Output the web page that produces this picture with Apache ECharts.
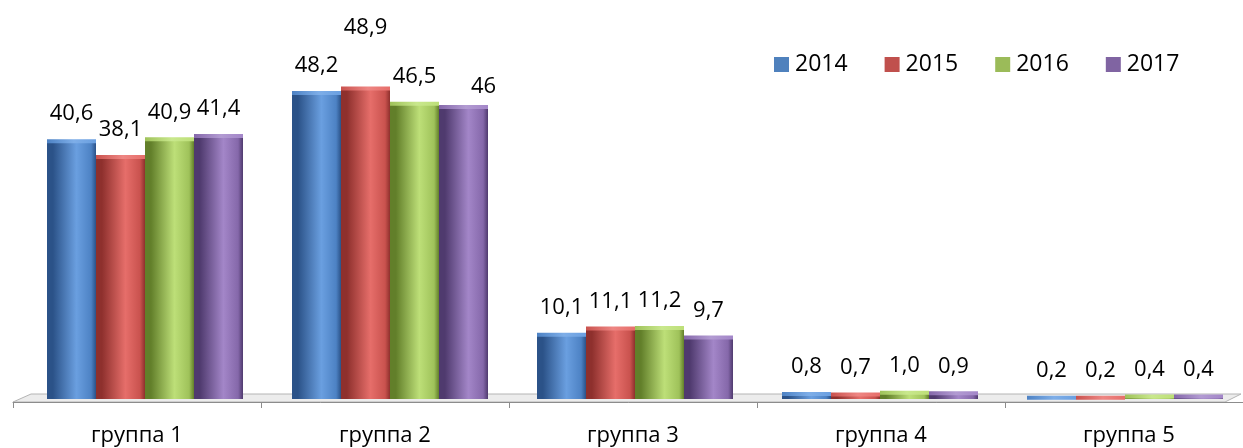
<!DOCTYPE html>
<html>
<head>
<meta charset="utf-8">
<script src="https://cdn.jsdelivr.net/npm/echarts@6/dist/echarts.min.js"></script>
<style>
html,body{margin:0;padding:0;background:#fff;}
#chart{width:1243px;height:448px;}
</style>
</head>
<body>
<div id="chart"></div>
<script>
var categories = ['группа 1', 'группа 2', 'группа 3', 'группа 4', 'группа 5'];
var years = ['2014', '2015', '2016', '2017'];
var v2014 = [40.6, 48.2, 10.1, 0.8, 0.2];
var v2015 = [38.1, 48.9, 11.1, 0.7, 0.2];
var v2016 = [40.9, 46.5, 11.2, 1.0, 0.4];
var v2017 = [41.4, 46.0, 9.7, 0.9, 0.4];
var t2014 = ['40,6', '48,2', '10,1', '0,8', '0,2'];
var t2015 = ['38,1', '48,9', '11,1', '0,7', '0,2'];
var t2016 = ['40,9', '46,5', '11,2', '1,0', '0,4'];
var t2017 = ['41,4', '46', '9,7', '0,9', '0,4'];

var values = [v2014, v2015, v2016, v2017];
var texts = [t2014, t2015, t2016, t2017];
// [dark, light, right, base, capLight]
var palette = [
  ['#2b5288', '#6a9fe0', '#4d82c4', '#4F81BD', '#7eaee8'],
  ['#8e302d', '#e66e6a', '#c9524e', '#C0504D', '#ee8683'],
  ['#627f2a', '#bddf78', '#9fc25a', '#9BBB59', '#c9e88d'],
  ['#4f3a6e', '#a386c8', '#8568aa', '#8064A2', '#b29bd2']
];
// label nudges (layout only)
var nudge = {'1-1': [0, -34], '3-1': [20, 7]};

var FONT = 'Open Sans';
var chart = echarts.init(document.getElementById('chart'));

function grad(stops) {
  return new echarts.graphic.LinearGradient(0, 0, 1, 0, stops);
}

var series = [];
values.forEach(function (vals, s) {
  var p = palette[s];
  series.push({
    name: years[s],
    type: 'bar',
    xAxisIndex: 0,
    yAxisIndex: 0,
    barWidth: 49,
    barGap: '0%',
    z: 3,
    itemStyle: {
      color: grad([
        {offset: 0, color: p[0]},
        {offset: 0.12, color: p[0]},
        {offset: 0.6, color: p[1]},
        {offset: 0.9, color: p[2]},
        {offset: 1, color: p[0]}
      ])
    },
    data: vals.map(function (v, i) {
      var o = nudge[s + '-' + i];
      var d = {value: v};
      if (o) d.label = {offset: o};
      return d;
    }),
    label: {
      show: true,
      position: 'top',
      distance: 16,
      fontFamily: FONT,
      fontSize: 22,
      color: '#000',
      formatter: function (prm) { return texts[s][prm.dataIndex]; }
    }
  });
});
values.forEach(function (vals, s) {
  var p = palette[s];
  series.push({
    name: years[s] + ' cap',
    type: 'pictorialBar',
    xAxisIndex: 0,
    yAxisIndex: 0,
    barWidth: 49,
    barGap: '0%',
    symbol: 'ellipse',
    symbolSize: [49, 4],
    symbolPosition: 'end',
    symbolOffset: [0, '-50%'],
    z: 4,
    silent: true,
    itemStyle: {
      color: grad([
        {offset: 0, color: p[2]},
        {offset: 0.55, color: p[4]},
        {offset: 1, color: p[1]}
      ])
    },
    data: vals
  });
});

var option = {
  backgroundColor: '#fff',
  animation: false,
  legend: {
    data: years.map(function (y, i) { return {name: y, itemStyle: {color: palette[i][3]}}; }),
    left: 769,
    top: 48,
    itemWidth: 15,
    itemHeight: 15,
    itemGap: 37,
    icon: 'rect',
    textStyle: {fontFamily: FONT, fontSize: 23, color: '#000', padding: [0, 0, 0, 1]}
  },
  grid: [
    {left: 22.5, width: 1225, top: 18, bottom: 49, outerBoundsMode: 'none'},
    {left: 13, width: 1240, top: 18, bottom: 46, outerBoundsMode: 'none'}
  ],
  xAxis: [
    {type: 'category', gridIndex: 0, data: categories, show: false},
    {
      type: 'category', gridIndex: 1, data: categories,
      axisLine: {show: true, lineStyle: {color: '#8c8c8c', width: 1}},
      axisTick: {show: true, length: 6, lineStyle: {color: '#8c8c8c'}},
      axisLabel: {margin: 23, fontFamily: FONT, fontSize: 22, color: '#000'}
    }
  ],
  yAxis: [
    {type: 'value', gridIndex: 0, min: 0, max: 60, show: false},
    {type: 'value', gridIndex: 1, min: 0, max: 60, show: false}
  ],
  graphic: [
    {
      type: 'polygon', z: 0, silent: true,
      shape: {points: [[13, 402], [31, 394], [1241, 394], [1225, 402]]},
      style: {fill: '#ececec', stroke: '#b4b4b4', lineWidth: 1}
    }
  ],
  series: series
};
chart.setOption(option);
</script>
</body>
</html>
